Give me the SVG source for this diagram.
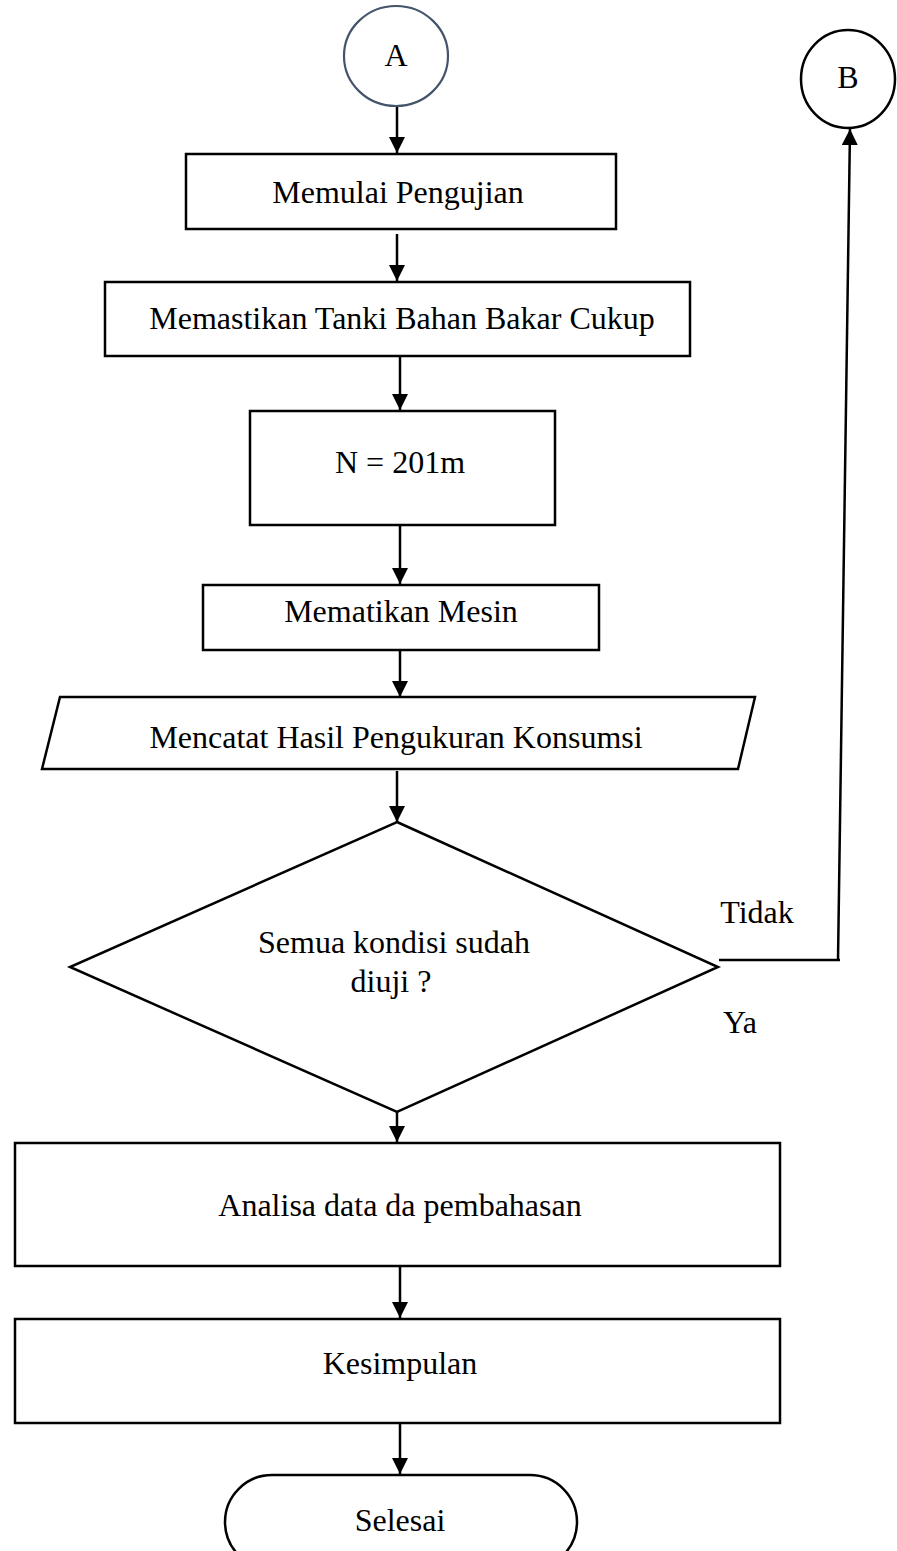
<svg xmlns="http://www.w3.org/2000/svg" width="897" height="1551" viewBox="0 0 897 1551">
<defs>
<marker id="ah" markerWidth="16" markerHeight="16" refX="16" refY="8" orient="auto" markerUnits="userSpaceOnUse" viewBox="0 0 16 16"><path d="M0,0 L16,8 L0,16 Z" fill="#000"/></marker>
<style>
.s{fill:#fff;stroke:#000;stroke-width:2.5}
.t{font-family:"Liberation Serif","Times New Roman",serif;font-size:32px;fill:#000;text-anchor:middle}
.c{fill:none;stroke:#000;stroke-width:2.5}
</style>
</defs>
<rect width="897" height="1551" fill="#fff"/>
<g id="connectors">
<line class="c" x1="397" y1="106" x2="397" y2="153" marker-end="url(#ah)"/>
<line class="c" x1="397" y1="234" x2="397" y2="281" marker-end="url(#ah)"/>
<line class="c" x1="400" y1="357" x2="400" y2="410" marker-end="url(#ah)"/>
<line class="c" x1="400" y1="526" x2="400" y2="584" marker-end="url(#ah)"/>
<line class="c" x1="400" y1="651" x2="400" y2="697" marker-end="url(#ah)"/>
<line class="c" x1="397" y1="771" x2="397" y2="822" marker-end="url(#ah)"/>
<line class="c" x1="397" y1="1112" x2="397" y2="1142" marker-end="url(#ah)"/>
<line class="c" x1="400" y1="1267" x2="400" y2="1318" marker-end="url(#ah)"/>
<line class="c" x1="400" y1="1424" x2="400" y2="1474" marker-end="url(#ah)"/>
<line class="c" x1="719" y1="960" x2="840" y2="960"/>
<line class="c" x1="838" y1="960" x2="850" y2="129" marker-end="url(#ah)"/>
</g>
<g id="A"><ellipse cx="396" cy="56" rx="52" ry="50" fill="#fff" stroke="#44546a" stroke-width="2.2"/><text class="t" x="396" y="66">A</text></g>
<g id="B"><ellipse cx="848" cy="79" rx="47" ry="49" class="s"/><text class="t" x="848" y="88">B</text></g>
<g id="n1"><rect class="s" x="186" y="154" width="430" height="75"/><text class="t" x="398" y="203">Memulai Pengujian</text></g>
<g id="n2"><rect class="s" x="105" y="282" width="585" height="74"/><text class="t" x="402" y="329">Memastikan Tanki Bahan Bakar Cukup</text></g>
<g id="n3"><rect class="s" x="250" y="411" width="305" height="114"/><text class="t" x="400" y="473">N = 201m</text></g>
<g id="n4"><rect class="s" x="203" y="585" width="396" height="65"/><text class="t" x="401" y="622">Mematikan Mesin</text></g>
<g id="n5"><polygon class="s" points="60,697 755,697 738,769 42,769"/><text class="t" x="396" y="748">Mencatat Hasil Pengukuran Konsumsi</text></g>
<g id="n6"><polygon class="s" points="397,822 718,967 397,1112 70,967"/><text class="t" x="394" y="953">Semua kondisi sudah</text><text class="t" x="391" y="992">diuji ?</text></g>
<text class="t" x="757" y="923">Tidak</text>
<text class="t" x="740" y="1033">Ya</text>
<g id="n7"><rect class="s" x="15" y="1143" width="765" height="123"/><text class="t" x="400" y="1216">Analisa data da pembahasan</text></g>
<g id="n8"><rect class="s" x="15" y="1319" width="765" height="104"/><text class="t" x="400" y="1374">Kesimpulan</text></g>
<g id="n9"><rect class="s" x="225" y="1475" width="352" height="94" rx="47" ry="47"/><text class="t" x="400" y="1531">Selesai</text></g>
</svg>
